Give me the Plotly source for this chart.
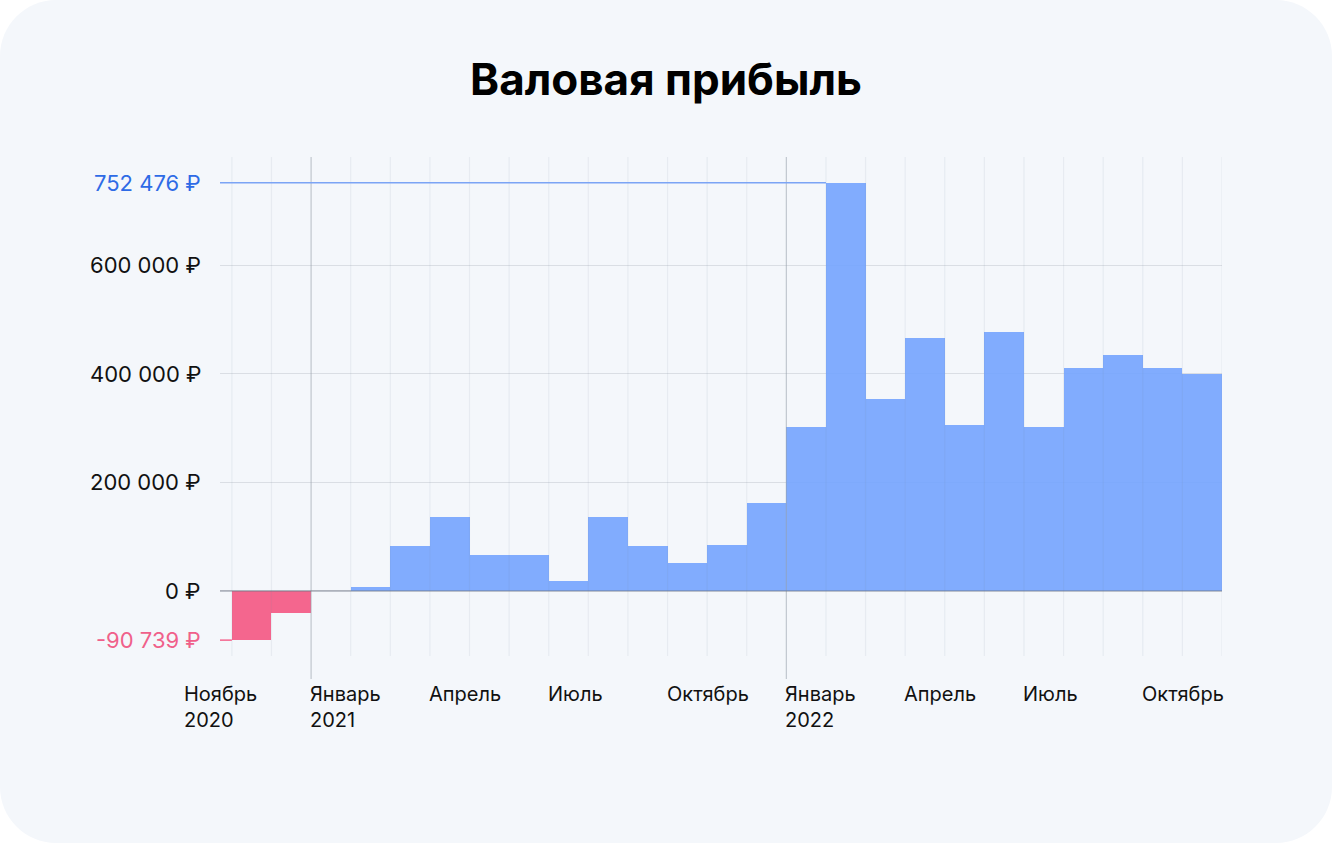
import plotly.graph_objects as go

# ---- data ----
months = ["Ноябрь 2020", "Декабрь 2020", "Январь 2021", "Февраль 2021", "Март 2021",
          "Апрель 2021", "Май 2021", "Июнь 2021", "Июль 2021", "Август 2021",
          "Сентябрь 2021", "Октябрь 2021", "Ноябрь 2021", "Декабрь 2021", "Январь 2022",
          "Февраль 2022", "Март 2022", "Апрель 2022", "Май 2022", "Июнь 2022",
          "Июль 2022", "Август 2022", "Сентябрь 2022", "Октябрь 2022", "Ноябрь 2022"]
profit = [-90739, -41000, 0, 7400, 82500,
          136000, 67000, 67000, 18000, 136000,
          83000, 52000, 85000, 162500, 301600,
          752476, 353300, 466700, 306600, 476500,
          301600, 411300, 434500, 411300, 400200]
tick_idx = [0, 2, 5, 8, 11, 14, 17, 20, 23]
tick_text = ["Ноябрь<br>2020", "Январь<br>2021", "Апрель", "Июль", "Октябрь",
             "Январь<br>2022", "Апрель", "Июль", "Октябрь"]
year_idx = [2, 14]
y_ticks = [0, 200000, 400000, 600000]
y_max = 800000
title = "Валовая прибыль"

# ---- geometry ----
W, H = 1332, 844
L, R, T, B = 220, 1222, 157, 656
FONT = "Inter"
BLUE = "rgba(118,165,254,0.92)"
PINK = "#F4668E"


def px_x(p):
    return (p - L) / (R - L)


def px_y(p):
    return (B - p) / (B - T)


def fmt(v):
    s = f"{abs(v):,}".replace(",", " ")
    return ("-" if v < 0 else "") + s + " ₽"


n = len(profit)
xs = [i + 0.5 for i in range(n)]
colors = [PINK if v < 0 else BLUE for v in profit]

fig = go.Figure()
fig.add_trace(go.Bar(
    x=xs, y=profit, width=1,
    marker=dict(color=colors, line=dict(width=0)),
    customdata=months,
    hovertemplate="%{customdata}: %{y:,.0f} ₽<extra></extra>",
))

shapes = []
# rounded background card
r = 56
x0, x1, y0, y1 = 0, W, 0, 843
k = 0.45 * r
pts = [
    ("M", [(x0 + r, y0)]),
    ("L", [(x1 - r, y0)]),
    ("C", [(x1 - k, y0), (x1, y0 + k), (x1, y0 + r)]),
    ("L", [(x1, y1 - r)]),
    ("C", [(x1, y1 - k), (x1 - k, y1), (x1 - r, y1)]),
    ("L", [(x0 + r, y1)]),
    ("C", [(x0 + k, y1), (x0, y1 - k), (x0, y1 - r)]),
    ("L", [(x0, y0 + r)]),
    ("C", [(x0, y0 + k), (x0 + k, y0), (x0 + r, y0)]),
]
path = ""
for cmd, ps in pts:
    path += cmd + " ".join(f"{px_x(a):.5f},{px_y(b):.5f}" for a, b in ps) + " "
path += "Z"
shapes.append(dict(type="path", path=path, xref="paper", yref="paper",
                   fillcolor="#F4F7FB", line=dict(width=0), layer="below"))

# monthly vertical grid lines (drawn over the bars, very faint)
for i in range(n + 1):
    if i in year_idx:
        continue
    shapes.append(dict(type="line", xref="x", yref="paper", x0=i, x1=i, y0=0, y1=1,
                       line=dict(color="rgba(120,135,160,0.10)", width=1.2), layer="above"))
# year lines
for i in year_idx:
    shapes.append(dict(type="line", xref="x", yref="paper", x0=i, x1=i,
                       y0=px_y(679), y1=1,
                       line=dict(color="rgba(150,158,170,0.55)", width=1.2), layer="above"))
# zero line
shapes.append(dict(type="line", xref="paper", yref="y", x0=0, x1=1, y0=0, y1=0,
                   line=dict(color="rgba(110,118,132,0.55)", width=1.5), layer="above"))
# reference line to the max value
imax = profit.index(max(profit))
shapes.append(dict(type="line", xref="x", yref="y", x0=-0.3, x1=imax, y0=max(profit), y1=max(profit),
                   line=dict(color="#7BA4F5", width=1.5), layer="above"))
imin = profit.index(min(profit))
shapes.append(dict(type="line", xref="x", yref="y", x0=-0.3, x1=imin, y0=min(profit), y1=min(profit),
                   line=dict(color=PINK, width=1.5), layer="above"))

annotations = []
# y labels
for v in y_ticks:
    annotations.append(dict(xref="paper", yref="y", x=0, y=v, xanchor="right", yanchor="middle",
                            xshift=-17, text=fmt(v), showarrow=False,
                            font=dict(family=FONT, size=22, color="#111111")))
annotations.append(dict(xref="paper", yref="y", x=0, y=max(profit), xanchor="right", yanchor="middle",
                        xshift=-17, text=fmt(max(profit)), showarrow=False,
                        font=dict(family=FONT, size=22, color="#2E6BE6")))
annotations.append(dict(xref="paper", yref="y", x=0, y=min(profit), xanchor="right", yanchor="middle",
                        xshift=-17, text=fmt(min(profit)), showarrow=False,
                        font=dict(family=FONT, size=22, color="#F0608A")))
# x labels
for j, (i, t) in enumerate(zip(tick_idx, tick_text)):
    annotations.append(dict(xref="x", yref="paper", x=i, y=px_y(680), xanchor="left", yanchor="top",
                            xshift=(-50 if j == 0 else -3), text=t, showarrow=False, align="left",
                            font=dict(family=FONT, size=20, color="#111111")))

fig.update_layout(
    width=W, height=H,
    margin=dict(l=L, r=W - R, t=T, b=H - B),
    paper_bgcolor="white",
    plot_bgcolor="rgba(0,0,0,0)",
    showlegend=False,
    bargap=0,
    title=dict(text=f"<b>{title}</b>", x=0.5, xref="container", xanchor="center",
               y=1 - 80 / H, yref="container", yanchor="middle",
               font=dict(family=FONT, size=44, color="#000000")),
    xaxis=dict(range=[-0.3, n], showgrid=False, zeroline=False, showticklabels=False,
               ticks="", showline=False, fixedrange=True),
    yaxis=dict(range=[-120000, y_max], tickvals=y_ticks + [y_max], showticklabels=False,
               gridcolor="#DADEE4", gridwidth=1.2, zeroline=False, showline=False, ticks="",
               fixedrange=True),
    shapes=shapes,
    annotations=annotations,
)

fig.write_html("out.html")
